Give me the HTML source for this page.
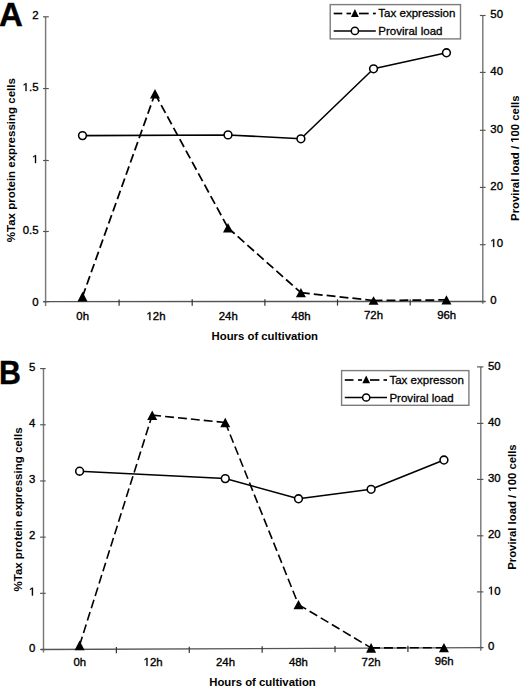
<!DOCTYPE html>
<html><head><meta charset="utf-8"><style>
html,body{margin:0;padding:0;background:#fff;width:520px;height:689px;overflow:hidden}
svg{display:block}
.o1{fill:none;stroke:none}
</style></head><body>
<svg width="520" height="689" viewBox="0 0 520 689">
<rect width="520" height="689" fill="#fff"/>
<g stroke="#787878" stroke-width="1.45" fill="none">
<line x1="45.6" y1="16.8" x2="45.6" y2="305.90"/>
<line x1="482.8" y1="15.5" x2="482.8" y2="303.80"/>
</g>
<g stroke="#555" stroke-width="1.15" fill="none">
<line x1="43.00" y1="301.70" x2="48.80" y2="301.70"/>
<line x1="43.00" y1="231.50" x2="48.80" y2="231.50"/>
<line x1="43.00" y1="160.50" x2="48.80" y2="160.50"/>
<line x1="43.00" y1="88.55" x2="48.80" y2="88.55"/>
<line x1="43.00" y1="16.80" x2="48.80" y2="16.80"/>
<line x1="479.90" y1="301.50" x2="485.60" y2="301.50"/>
<line x1="479.90" y1="244.70" x2="485.60" y2="244.70"/>
<line x1="479.90" y1="187.40" x2="485.60" y2="187.40"/>
<line x1="479.90" y1="130.30" x2="485.60" y2="130.30"/>
<line x1="479.90" y1="72.40" x2="485.60" y2="72.40"/>
<line x1="479.90" y1="15.50" x2="485.60" y2="15.50"/>
</g>
<line x1="43.1" y1="301.60" x2="485.3" y2="301.50" stroke="#555" stroke-width="1.4"/>
<g stroke="#333" stroke-width="1.2">
<line x1="119.10" y1="299.38" x2="119.10" y2="305.68"/>
<line x1="192.20" y1="299.37" x2="192.20" y2="305.67"/>
<line x1="264.90" y1="299.35" x2="264.90" y2="305.65"/>
<line x1="337.50" y1="299.33" x2="337.50" y2="305.63"/>
<line x1="410.20" y1="299.32" x2="410.20" y2="305.62"/>
</g>
<g font-family='"Liberation Sans", sans-serif' font-size="11.4" fill="#000" stroke="#000" stroke-width="0.35">
<text x="38.5" y="305.50" text-anchor="end">0</text>
<text x="38.5" y="234.00" text-anchor="end">0.5</text>
<text x="38.5" y="163.00" text-anchor="end"><tspan class="o1">1</tspan></text>
<text x="38.5" y="91.05" text-anchor="end"><tspan class="o1">1</tspan>.5</text>
<text x="38.5" y="19.30" text-anchor="end">2</text>
<text x="490.3" y="303.80">0</text>
<text x="490.3" y="247.00"><tspan class="o1">1</tspan>0</text>
<text x="490.3" y="189.70">20</text>
<text x="490.3" y="132.60">30</text>
<text x="490.3" y="74.70">40</text>
<text x="490.3" y="17.80">50</text>
<text x="82.65" y="320.20" text-anchor="middle">0h</text>
<text x="156.00" y="320.10" text-anchor="middle"><tspan class="o1">1</tspan>2h</text>
<text x="228.25" y="319.80" text-anchor="middle">24h</text>
<text x="301.10" y="319.60" text-anchor="middle">48h</text>
<text x="373.55" y="319.30" text-anchor="middle">72h</text>
<text x="446.70" y="319.00" text-anchor="middle">96h</text>
</g>
<g font-family='"Liberation Sans", sans-serif' font-size="11.35" font-weight="bold" fill="#000">
<text x="264.8" y="340.3" text-anchor="middle">Hours of cultivation</text>
<text transform="translate(15.3 160.2) rotate(-90)" text-anchor="middle" font-size="11.5">%Tax protein expressing cells</text>
<text transform="translate(518.8 158.2) rotate(-90)" text-anchor="middle">Proviral load / <tspan class="o1">1</tspan>00 cells</text>
</g>
<text transform="translate(-0.9 25.9) scale(1.0 1)" font-family='"Liberation Sans", sans-serif' font-size="33" font-weight="bold" stroke="#000" stroke-width="0.4">A</text>
<polyline points="82.50,135.60 228.00,134.90 300.90,138.80 373.55,68.80 446.45,52.80" fill="none" stroke="#000" stroke-width="1.55" stroke-linejoin="round"/>
<line x1="82.50" y1="296.70" x2="155.00" y2="93.70" stroke="#000" stroke-width="1.75" stroke-dasharray="8.9 4.05"/>
<line x1="155.00" y1="93.70" x2="228.00" y2="227.85" stroke="#000" stroke-width="1.75" stroke-dasharray="8.9 4.05"/>
<line x1="228.00" y1="227.85" x2="300.90" y2="292.70" stroke="#000" stroke-width="1.75" stroke-dasharray="8.9 4.05"/>
<line x1="300.90" y1="292.70" x2="373.55" y2="300.50" stroke="#000" stroke-width="1.75" stroke-dasharray="8.9 4.05"/>
<line x1="373.55" y1="300.50" x2="446.45" y2="299.90" stroke="#000" stroke-width="1.75" stroke-dasharray="8.9 4.05"/>
<circle cx="82.50" cy="135.60" r="3.9" fill="#fff" stroke="#000" stroke-width="1.55"/>
<circle cx="228.00" cy="134.90" r="3.9" fill="#fff" stroke="#000" stroke-width="1.55"/>
<circle cx="300.90" cy="138.80" r="3.9" fill="#fff" stroke="#000" stroke-width="1.55"/>
<circle cx="373.55" cy="68.80" r="3.9" fill="#fff" stroke="#000" stroke-width="1.55"/>
<circle cx="446.45" cy="52.80" r="3.9" fill="#fff" stroke="#000" stroke-width="1.55"/>
<path d="M82.50 291.80 L87.50 301.60 L77.50 301.60 Z" fill="#000"/>
<path d="M155.00 88.90 L160.00 98.50 L150.00 98.50 Z" fill="#000"/>
<path d="M228.00 223.10 L233.00 232.60 L223.00 232.60 Z" fill="#000"/>
<path d="M300.90 288.10 L305.90 297.30 L295.90 297.30 Z" fill="#000"/>
<path d="M373.55 296.20 L378.55 304.80 L368.55 304.80 Z" fill="#000"/>
<path d="M446.45 295.30 L451.45 304.50 L441.45 304.50 Z" fill="#000"/>
<rect x="330.2" y="4.6" width="130.30" height="34.30" fill="#fff" stroke="#7c7c7c" stroke-width="1.4"/>
<line x1="333.7" y1="13.5" x2="342.3" y2="13.5" stroke="#000" stroke-width="1.7"/>
<line x1="346.5" y1="13.5" x2="351" y2="13.5" stroke="#000" stroke-width="1.7"/>
<line x1="359" y1="13.5" x2="368.7" y2="13.5" stroke="#000" stroke-width="1.7"/>
<line x1="373" y1="13.5" x2="375.8" y2="13.5" stroke="#000" stroke-width="1.7"/>
<path d="M354.90 9.10 L358.80 16.90 L351.00 16.90 Z" fill="#000"/>
<line x1="333.7" y1="30.9" x2="375.8" y2="30.9" stroke="#000" stroke-width="1.45"/>
<circle cx="354.90" cy="30.90" r="3.6" fill="#fff" stroke="#000" stroke-width="1.5"/>
<g font-family='"Liberation Sans", sans-serif' font-size="11.55" fill="#000" stroke="#000" stroke-width="0.3">
<text x="378.3" y="17.2">Tax expression</text>
<text x="378.3" y="34.5">Proviral load</text>
</g>
<g stroke="#787878" stroke-width="1.45" fill="none">
<line x1="43.5" y1="368.6" x2="43.5" y2="652.40"/>
<line x1="480.8" y1="366.9" x2="480.8" y2="650.80"/>
</g>
<g stroke="#555" stroke-width="1.15" fill="none">
<line x1="40.10" y1="649.50" x2="45.70" y2="649.50"/>
<line x1="40.10" y1="593.32" x2="45.70" y2="593.32"/>
<line x1="40.10" y1="537.14" x2="45.70" y2="537.14"/>
<line x1="40.10" y1="480.96" x2="45.70" y2="480.96"/>
<line x1="40.10" y1="424.78" x2="45.70" y2="424.78"/>
<line x1="40.10" y1="368.60" x2="45.70" y2="368.60"/>
<line x1="477.00" y1="647.50" x2="483.40" y2="647.50"/>
<line x1="477.00" y1="591.90" x2="483.40" y2="591.90"/>
<line x1="477.00" y1="535.80" x2="483.40" y2="535.80"/>
<line x1="477.00" y1="479.40" x2="483.40" y2="479.40"/>
<line x1="477.00" y1="423.40" x2="483.40" y2="423.40"/>
<line x1="477.00" y1="366.90" x2="483.40" y2="366.90"/>
</g>
<line x1="41.0" y1="649.51" x2="483.3" y2="647.59" stroke="#555" stroke-width="1.4"/>
<g stroke="#333" stroke-width="1.2">
<line x1="116.38" y1="646.98" x2="116.38" y2="653.28"/>
<line x1="189.27" y1="646.67" x2="189.27" y2="652.97"/>
<line x1="262.15" y1="646.35" x2="262.15" y2="652.65"/>
<line x1="335.03" y1="646.03" x2="335.03" y2="652.33"/>
<line x1="407.92" y1="645.72" x2="407.92" y2="652.02"/>
</g>
<g font-family='"Liberation Sans", sans-serif' font-size="11.4" fill="#000" stroke="#000" stroke-width="0.35">
<text x="35.4" y="651.70" text-anchor="end">0</text>
<text x="35.4" y="595.52" text-anchor="end"><tspan class="o1">1</tspan></text>
<text x="35.4" y="539.34" text-anchor="end">2</text>
<text x="35.4" y="483.16" text-anchor="end">3</text>
<text x="35.4" y="426.98" text-anchor="end">4</text>
<text x="35.4" y="370.80" text-anchor="end">5</text>
<text x="488.0" y="650.10">0</text>
<text x="488.0" y="594.50"><tspan class="o1">1</tspan>0</text>
<text x="488.0" y="538.40">20</text>
<text x="488.0" y="482.00">30</text>
<text x="488.0" y="426.00">40</text>
<text x="488.0" y="369.50">50</text>
<text x="79.80" y="666.40" text-anchor="middle">0h</text>
<text x="153.10" y="665.80" text-anchor="middle"><tspan class="o1">1</tspan>2h</text>
<text x="225.55" y="666.00" text-anchor="middle">24h</text>
<text x="298.40" y="665.60" text-anchor="middle">48h</text>
<text x="371.10" y="665.60" text-anchor="middle">72h</text>
<text x="444.15" y="665.00" text-anchor="middle">96h</text>
</g>
<g font-family='"Liberation Sans", sans-serif' font-size="11.35" font-weight="bold" fill="#000">
<text x="262.5" y="686.2" text-anchor="middle">Hours of cultivation</text>
<text transform="translate(21.9 509.5) rotate(-90)" text-anchor="middle" font-size="11.5">%Tax protein expressing cells</text>
<text transform="translate(516.4 507.1) rotate(-90)" text-anchor="middle">Proviral load / <tspan class="o1">1</tspan>00 cells</text>
</g>
<text transform="translate(-0.9 384.0) scale(0.92 1)" font-family='"Liberation Sans", sans-serif' font-size="33" font-weight="bold" stroke="#000" stroke-width="0.4">B</text>
<polyline points="79.60,471.20 225.25,478.60 298.50,498.75 371.10,489.30 443.95,460.00" fill="none" stroke="#000" stroke-width="1.55" stroke-linejoin="round"/>
<line x1="79.60" y1="645.30" x2="152.20" y2="415.15" stroke="#000" stroke-width="1.6" stroke-dasharray="8.9 4.05"/>
<line x1="152.20" y1="415.15" x2="225.25" y2="422.50" stroke="#000" stroke-width="1.6" stroke-dasharray="8.9 4.05"/>
<line x1="225.25" y1="422.50" x2="298.50" y2="604.60" stroke="#000" stroke-width="1.6" stroke-dasharray="8.9 4.05"/>
<line x1="298.50" y1="604.60" x2="371.10" y2="647.90" stroke="#000" stroke-width="1.6" stroke-dasharray="8.9 4.05"/>
<line x1="371.10" y1="647.90" x2="443.95" y2="647.70" stroke="#000" stroke-width="1.6" stroke-dasharray="8.9 4.05"/>
<circle cx="79.60" cy="471.20" r="3.9" fill="#fff" stroke="#000" stroke-width="1.55"/>
<circle cx="225.25" cy="478.60" r="3.9" fill="#fff" stroke="#000" stroke-width="1.55"/>
<circle cx="298.50" cy="498.75" r="3.9" fill="#fff" stroke="#000" stroke-width="1.55"/>
<circle cx="371.10" cy="489.30" r="3.9" fill="#fff" stroke="#000" stroke-width="1.55"/>
<circle cx="443.95" cy="460.00" r="3.9" fill="#fff" stroke="#000" stroke-width="1.55"/>
<path d="M79.60 640.40 L84.60 650.20 L74.60 650.20 Z" fill="#000"/>
<path d="M152.20 410.40 L157.20 419.90 L147.20 419.90 Z" fill="#000"/>
<path d="M225.25 417.80 L230.25 427.20 L220.25 427.20 Z" fill="#000"/>
<path d="M298.50 600.00 L303.50 609.20 L293.50 609.20 Z" fill="#000"/>
<path d="M371.10 643.10 L376.10 652.70 L366.10 652.70 Z" fill="#000"/>
<path d="M443.95 643.10 L448.95 652.30 L438.95 652.30 Z" fill="#000"/>
<rect x="341.6" y="370.6" width="127.30" height="34.70" fill="#fff" stroke="#7c7c7c" stroke-width="1.4"/>
<line x1="344.8" y1="380" x2="353.5" y2="380" stroke="#000" stroke-width="1.7"/>
<line x1="358" y1="380" x2="362" y2="380" stroke="#000" stroke-width="1.7"/>
<line x1="370" y1="380" x2="379.4" y2="380" stroke="#000" stroke-width="1.7"/>
<line x1="383.5" y1="380" x2="387" y2="380" stroke="#000" stroke-width="1.7"/>
<path d="M366.20 375.40 L370.10 383.30 L362.30 383.30 Z" fill="#000"/>
<line x1="344.8" y1="397.5" x2="387" y2="397.5" stroke="#000" stroke-width="1.45"/>
<circle cx="366.20" cy="397.50" r="3.6" fill="#fff" stroke="#000" stroke-width="1.5"/>
<g font-family='"Liberation Sans", sans-serif' font-size="11.55" fill="#000" stroke="#000" stroke-width="0.3">
<text x="389.4" y="383.6">Tax expresson</text>
<text x="389.4" y="401.5">Proviral load</text>
</g>
<path transform="translate(32.156 163.000) scale(0.005566 -0.005566)" d="M515 0V1237L197 1010V1180L530 1409H696V0Z" fill="#000" stroke="#000" stroke-width="62.9"/>
<path transform="translate(22.656 91.050) scale(0.005566 -0.005566)" d="M515 0V1237L197 1010V1180L530 1409H696V0Z" fill="#000" stroke="#000" stroke-width="62.9"/>
<path transform="translate(490.300 247.000) scale(0.005566 -0.005566)" d="M515 0V1237L197 1010V1180L530 1409H696V0Z" fill="#000" stroke="#000" stroke-width="62.9"/>
<path transform="translate(146.492 320.100) scale(0.005566 -0.005566)" d="M515 0V1237L197 1010V1180L530 1409H696V0Z" fill="#000" stroke="#000" stroke-width="62.9"/>
<path transform="translate(518.8 158.2) rotate(-90) translate(15.430 0.000) scale(0.005542 -0.005542)" d="M478 0V1170L140 959V1180L493 1409H759V0Z" fill="#000"/>
<path transform="translate(29.056 595.520) scale(0.005566 -0.005566)" d="M515 0V1237L197 1010V1180L530 1409H696V0Z" fill="#000" stroke="#000" stroke-width="62.9"/>
<path transform="translate(488.000 594.500) scale(0.005566 -0.005566)" d="M515 0V1237L197 1010V1180L530 1409H696V0Z" fill="#000" stroke="#000" stroke-width="62.9"/>
<path transform="translate(143.592 665.800) scale(0.005566 -0.005566)" d="M515 0V1237L197 1010V1180L530 1409H696V0Z" fill="#000" stroke="#000" stroke-width="62.9"/>
<path transform="translate(516.4 507.1) rotate(-90) translate(15.430 0.000) scale(0.005542 -0.005542)" d="M478 0V1170L140 959V1180L493 1409H759V0Z" fill="#000"/>
</svg>
</body></html>
